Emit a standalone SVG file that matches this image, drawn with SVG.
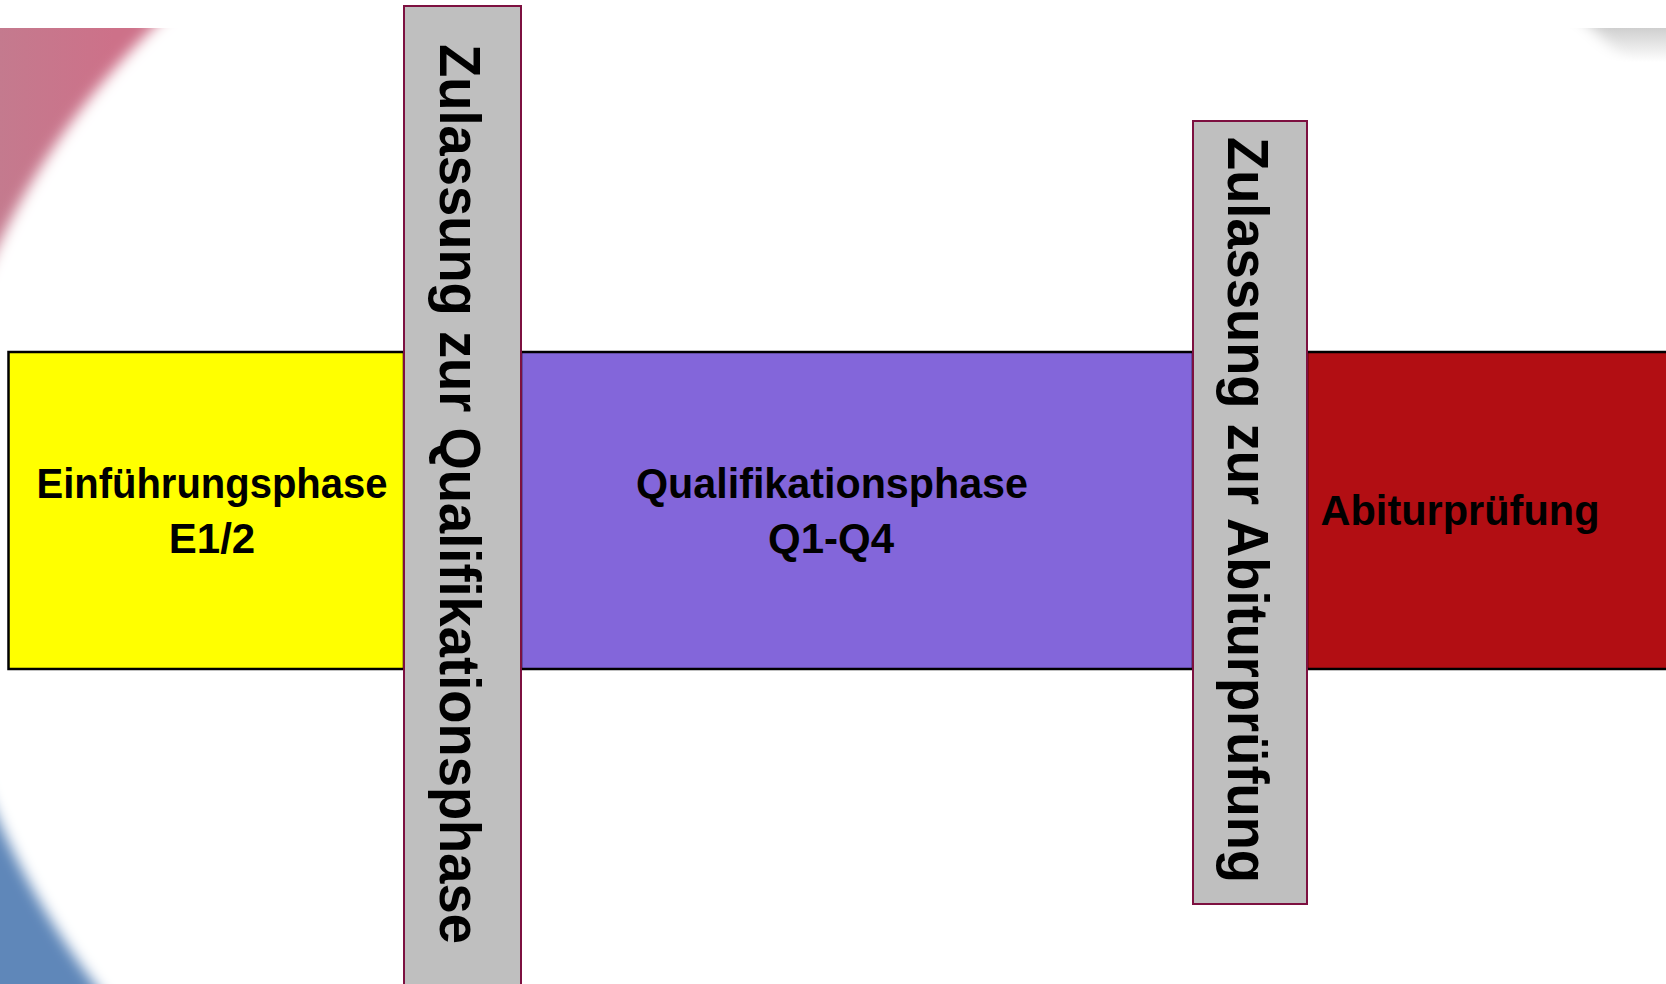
<svg xmlns="http://www.w3.org/2000/svg" width="1666" height="984" viewBox="0 0 1666 984">
  <defs>
    <filter id="soft" x="-10%" y="-10%" width="120%" height="120%">
      <feGaussianBlur stdDeviation="7"/>
    </filter>
    <linearGradient id="grayfade" x1="0" y1="0" x2="0" y2="1">
      <stop offset="0" stop-color="#cfcfcf"/>
      <stop offset="1" stop-color="#ffffff"/>
    </linearGradient>
    <linearGradient id="pinkfade" x1="0" y1="0" x2="1" y2="0">
      <stop offset="0" stop-color="#c47a8e"/>
      <stop offset="0.15" stop-color="#cd7189"/>
      <stop offset="1" stop-color="#cd7189"/>
    </linearGradient>
    <style>
      .phase { stroke: #000000; stroke-width: 2.5; }
      .gate { fill: #bfbfbf; stroke: #7d1040; stroke-width: 2; }
      .lbl { font-family: "Liberation Sans", Arial, sans-serif; font-weight: bold; fill: #000000; }
      .h { font-size: 42px; text-anchor: middle; }
      .v { font-size: 58px; }
    </style>
  </defs>

  <g id="background">
    <rect x="0" y="0" width="1666" height="984" fill="#ffffff"/>
    <rect x="0" y="28" width="760" height="500" fill="url(#pinkfade)"/>
    <rect x="0" y="528" width="760" height="456" fill="#5f87b9"/>
    <rect x="1540" y="28" width="126" height="34" fill="url(#grayfade)"/>
    <path d="M -64 522 A 936 772 0 0 1 1808 522 A 936 830 0 0 1 -64 522 Z" fill="#ffffff" filter="url(#soft)"/>
  </g>

  <g id="connectors"/>

  <g id="einfuehrungsphase">
    <rect class="phase" x="8.5" y="352" width="395.5" height="317" fill="#ffff00"/>
    <text class="lbl h" x="212" y="498" textLength="351" lengthAdjust="spacingAndGlyphs">Einführungsphase</text>
    <text class="lbl h" x="212" y="553">E1/2</text>
  </g>

  <g id="qualifikationsphase">
    <rect class="phase" x="521" y="352" width="672" height="317" fill="#8366da"/>
    <text class="lbl h" x="832" y="498" textLength="392" lengthAdjust="spacingAndGlyphs">Qualifikationsphase</text>
    <text class="lbl h" x="831" y="553">Q1-Q4</text>
  </g>

  <g id="abiturpruefung">
    <rect class="phase" x="1307" y="352" width="362" height="317" fill="#b20e13"/>
    <text class="lbl h" x="1460" y="525" textLength="279" lengthAdjust="spacingAndGlyphs">Abiturprüfung</text>
  </g>

  <g id="zulassung-qualifikationsphase">
    <rect class="gate" x="404" y="6" width="117" height="990"/>
    <text class="lbl v" transform="translate(440,44) rotate(90)" x="0" y="0" textLength="900" lengthAdjust="spacingAndGlyphs">Zulassung zur Qualifikationsphase</text>
  </g>

  <g id="zulassung-abiturpruefung">
    <rect class="gate" x="1193" y="121" width="114" height="783"/>
    <text class="lbl v" transform="translate(1228,137) rotate(90)" x="0" y="0" textLength="746" lengthAdjust="spacingAndGlyphs">Zulassung zur Abiturprüfung</text>
  </g>
</svg>
